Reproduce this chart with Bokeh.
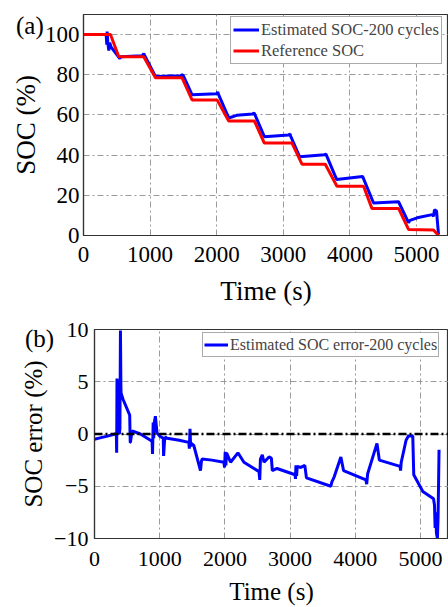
from bokeh.plotting import figure
from bokeh.models import Range1d, FixedTicker, Span, Div
from bokeh.embed import file_html
from bokeh.resources import INLINE

# ---------------- data ----------------
# Panel (a): reference SOC (red)
ref_time = [0, 405, 530, 905, 1080, 1480, 1630, 2005, 2180, 2565, 2715, 3130,
            3280, 3630, 3805, 4205, 4330, 4730, 4880, 5255, 5330]
ref_soc = [100, 100, 89, 89, 78.5, 78.5, 67.5, 67.5, 57, 57, 46, 46,
           35.5, 35.5, 24.5, 24.5, 13.5, 13.5, 3, 2.7, 0]

# Panel (a): estimated SOC (blue)
est_time = [0, 340, 350, 355, 365, 380, 395, 410, 545, 560, 880, 905, 920,
            1080, 1460, 1480, 1500, 1630, 2000, 2015, 2030, 2180, 2300, 2540,
            2560, 2575, 2715, 3080, 3100, 3110, 3245, 3620, 3640, 3800, 4190,
            4355, 4730, 4880, 4900, 5010, 5235, 5255, 5270, 5300, 5330]
est_soc = [100, 100, 95, 101.5, 96, 92, 96, 94, 88, 89, 89.5, 90.5, 89.5,
           79.2, 79.5, 80, 79.5, 70, 70.5, 71.5, 70, 58.5, 59.8, 60.5,
           61, 60, 49.2, 50, 50.5, 49.5, 39.2, 40.2, 40.5, 27.9, 29.4,
           16.2, 16.8, 6.4, 7.5, 8.8, 10.4, 9.6, 12.8, 12.2, 0.5]

# Panel (b): estimated SOC error (blue)
err_time = [0, 100, 200, 318, 335, 340, 345, 350, 357, 365, 380, 390, 398, 405,
            408, 439, 540, 548, 551, 577, 704, 883, 890, 900, 908, 915, 934,
            959, 1000, 1055, 1060, 1075, 1087, 1113, 1300, 1446, 1455, 1465,
            1475, 1485, 1523, 1626, 1640, 1651, 1800, 1985, 1995, 2005, 2015,
            2025, 2087, 2200, 2292, 2523, 2535, 2545, 2574, 2600, 2677, 2713,
            2728, 2800, 3077, 3083, 3090, 3100, 3110, 3164, 3226, 3251, 3626,
            3640, 3677, 3779, 3820, 4164, 4175, 4190, 4333, 4369, 4687, 4695,
            4705, 4779, 4815, 4882, 4897, 5036, 5200, 5215, 5225, 5235, 5245,
            5260, 5270, 5285]
err_val = [-0.5, -0.35, -0.2, 0, 0, -1.8, 5.3, 0.5, 5.2, 0.2, 0, 0.5, 9.9, 4.5,
           3.9, 3.3, 1.8, -0.8, -0.8, 0.3, 0, -0.7, -1.9, 1.1, -0.4, 1.0, 1.7,
           0.1, -0.2, -0.4, -2.1, -0.6, -0.3, -0.4, -0.6, -0.8, -1.4, 0.5,
           -1.2, -0.9, -1.1, -3.5, -2.6, -2.4, -2.5, -2.7, -3.2, -1.7, -3.0,
           -1.8, -2.7, -1.8, -2.7, -3.6, -4.4, -2.4, -2.0, -2.7, -2.2, -2.3,
           -3.5, -3.3, -3.9, -4.3, -3.0, -4.0, -3.1, -3.2, -3.0, -4.2, -5.0,
           -4.6, -4.1, -2.2, -3.5, -4.4, -4.8, -3.8, -0.9, -2.5, -3.1, -3.5,
           -2.7, -0.6, -0.2, -0.2, -3.9, -5.5, -6.2, -6.8, -9.0, -7.5, -9.5,
           -10.0, -8.0, -1.5]

# tick positions
time_ticks = [0, 1000, 2000, 3000, 4000, 5000]
soc_ticks = [0, 20, 40, 60, 80, 100]
err_ticks = [-10, -5, 0, 5, 10]

SERIF = "Liberation Serif"
GRID_DASH = "6 3 2 3"


def style(p, tick_size, label_size, xs1, xs2, ys1, ys2):
    for ax in (p.xaxis[0], p.yaxis[0]):
        ax.major_label_text_font = SERIF
        ax.axis_label_text_font = SERIF
        ax.major_label_text_font_size = tick_size
        ax.axis_label_text_font_size = label_size
        ax.axis_label_text_font_style = "normal"
        ax.major_label_text_color = "black"
        ax.axis_label_text_color = "black"
        ax.major_tick_in = 0
        ax.major_tick_out = 0
        ax.minor_tick_in = 0
        ax.minor_tick_out = 0
        ax.axis_line_color = "#333333"
        ax.axis_line_width = 1.2
    p.xaxis.major_label_standoff = xs1
    p.xaxis.axis_label_standoff = xs2
    p.yaxis.major_label_standoff = ys1
    p.yaxis.axis_label_standoff = ys2
    p.grid.grid_line_color = "#9a9a9a"
    p.grid.grid_line_dash = GRID_DASH
    p.grid.grid_line_width = 1
    p.outline_line_color = "#333333"
    p.outline_line_width = 1.2
    p.background_fill_color = "white"
    p.border_fill_color = "white"


# ---------------- panel (a) ----------------
p1 = figure(width=448, height=308, output_backend="svg", toolbar_location=None,
            x_range=Range1d(0, 5480), y_range=Range1d(0, 110),
            min_border_left=83, min_border_right=0, min_border_top=14,
            min_border_bottom=70)
p1.line(est_time, est_soc, color="#0000ff", line_width=3,
        legend_label="Estimated SOC-200 cycles")
p1.line(ref_time, ref_soc, color="#ff0000", line_width=3,
        legend_label="Reference SOC")
p1.xaxis.ticker = FixedTicker(ticks=time_ticks)
p1.yaxis.ticker = FixedTicker(ticks=soc_ticks)
p1.xaxis.axis_label = "Time (s)"
p1.yaxis.axis_label = "SOC (%)"
style(p1, "23px", "27px", 11, 11, 4, 1)
lg = p1.legend[0]
lg.location = (147, 171)
lg.label_text_font = SERIF
lg.label_text_font_size = "16.5px"
lg.glyph_width = 26
lg.glyph_height = 21
lg.label_height = 21
lg.label_standoff = 2
lg.padding = 2
lg.spacing = 0
lg.margin = 0
lg.border_line_color = "#555555"
lg.border_line_width = 1.5
lg.background_fill_alpha = 1

# ---------------- panel (b) ----------------
p2 = figure(width=448, height=299, output_backend="svg", toolbar_location=None,
            x_range=Range1d(0, 5430), y_range=Range1d(-10, 10),
            min_border_left=94, min_border_right=0, min_border_top=21,
            min_border_bottom=66)
p2.add_layout(Span(location=0, dimension="width", line_color="black",
                   line_width=2.5, line_dash="8 3 2 3"))
p2.line(err_time, err_val, color="#0000ff", line_width=3,
        legend_label="Estimated SOC error-200 cycles")
p2.xaxis.ticker = FixedTicker(ticks=time_ticks)
p2.yaxis.ticker = FixedTicker(ticks=err_ticks)
p2.xaxis.axis_label = "Time (s)"
p2.yaxis.axis_label = "SOC error (%)"
style(p2, "22px", "25px", 13, 9, 6, 4)
lg2 = p2.legend[0]
lg2.location = (108, 181)
lg2.label_text_font = SERIF
lg2.label_text_font_size = "16px"
lg2.glyph_width = 24
lg2.glyph_height = 21
lg2.label_height = 21
lg2.label_standoff = 2
lg2.padding = 1
lg2.spacing = 0
lg2.margin = 0
lg2.border_line_color = "#555555"
lg2.border_line_width = 1.5

# panel tags "(a)" / "(b)" as overlaid HTML text
TAG = '<span style="font-family: \'Liberation Serif\'; font-size: 25px; line-height: 1; color: black;">{}</span>'
tag_a = Div(text=TAG.format("(a)"),
            styles={"position": "absolute", "left": "11px", "top": "8px",
                    "z-index": "10"})
tag_b = Div(text=TAG.format("(b)"),
            styles={"position": "absolute", "left": "20px", "top": "321px",
                    "z-index": "10"})

open("out.html", "w").write(file_html([p1, p2, tag_a, tag_b], INLINE))
